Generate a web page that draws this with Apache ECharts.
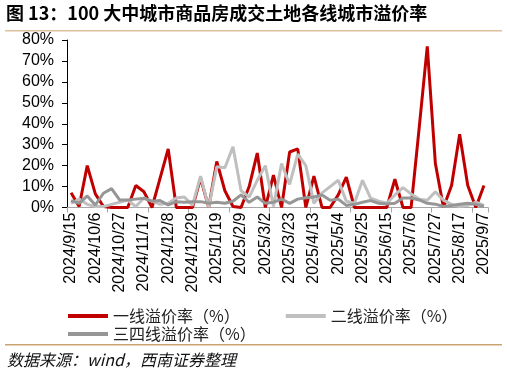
<!DOCTYPE html>
<html>
<head>
<meta charset="utf-8">
<script src="https://cdn.jsdelivr.net/npm/echarts@6/dist/echarts.min.js"></script>
<style>
  html, body { margin: 0; padding: 0; background: #fff; }
  #chart { width: 507px; height: 376px; }
</style>
</head>
<body>
<div id="chart"></div>
<script>
const weeks = [
  '2024/9/15', '2024/9/22', '2024/9/29', '2024/10/6', '2024/10/13', '2024/10/20', '2024/10/27',
  '2024/11/3', '2024/11/10', '2024/11/17', '2024/11/24', '2024/12/1', '2024/12/8', '2024/12/15',
  '2024/12/22', '2024/12/29', '2025/1/5', '2025/1/12', '2025/1/19', '2025/1/26', '2025/2/2',
  '2025/2/9', '2025/2/16', '2025/2/23', '2025/3/2', '2025/3/9', '2025/3/16', '2025/3/23',
  '2025/3/30', '2025/4/6', '2025/4/13', '2025/4/20', '2025/4/27', '2025/5/4', '2025/5/11',
  '2025/5/18', '2025/5/25', '2025/6/1', '2025/6/8', '2025/6/15', '2025/6/22', '2025/6/29',
  '2025/7/6', '2025/7/13', '2025/7/20', '2025/7/27', '2025/8/3', '2025/8/10', '2025/8/17',
  '2025/8/24', '2025/8/31', '2025/9/7'
];
// 溢价率 (%)
const tier1 = [7, 0.5, 20, 6.5, 0.5, 0, 0, 0, 10.5, 7.5, 0, 14, 28, 0, 0, 0, 14, 0, 22, 8,
  0.5, 0, 10, 26, 0, 15.5, 0, 26.5, 28, 0, 15, 0, 0, 6, 14.5, 0, 0, 0, 0, 0,
  13.5, 0, 0, 38, 77, 21, 0, 10.5, 35, 10.5, 0, 10.5];
const tier2 = [2, 4, 1.5, 0.5, 0.5, 1.5, 2.5, 3.5, 0.5, 4.5, 3, 1.5, 2, 4.5, 5, 1, 15, 0, 19.5, 19,
  29, 8, 5, 13, 20, 0.5, 21, 11, 25.5, 20, 2, 7, 10, 13, 3, 2, 13, 4.5, 3, 2,
  6, 9.5, 6.5, 4, 3.5, 7.5, 3.5, 1.5, 0.5, 1, 2.5, 1];
const tier34 = [3.3, 2, 5.5, 1.2, 6.8, 9, 3.6, 3.6, 4, 4.4, 3, 3.3, 1.2, 2.8, 2.5, 2.8, 2.8, 2, 2.5, 2,
  3, 6, 2.5, 5, 2, 2.5, 4, 2, 4, 4.7, 5, 6, 3.5, 4, 1, 1.5, 2.5, 3.3, 2, 1.7,
  2, 4.5, 4.5, 3.6, 2, 1.6, 0.5, 1, 1.5, 2, 1.5, 0.5];
const seriesNames = ['一线溢价率（%）', '二线溢价率（%）', '三四线溢价率（%）'];
const colors = ['#C00000', '#BFBFBF', '#969696'];

const latin = '"Liberation Sans", Arial, "Noto Sans CJK SC", sans-serif';
const cjk = '"Noto Sans CJK SC", "Liberation Sans", sans-serif';

const chart = echarts.init(document.getElementById('chart'));
const option = {
  animation: false,
  backgroundColor: '#fff',
  graphic: [
    { type: 'text', left: 6, top: 4,
      style: { text: '图 13：100 大中城市商品房成交土地各线城市溢价率', font: 'bold 18px ' + cjk, fill: '#000' } },
    { type: 'rect', shape: { x: 5, y: 30, width: 497, height: 1.5 }, style: { fill: '#DCC09A' } },
    { type: 'rect', shape: { x: 5, y: 344, width: 497, height: 1.5 }, style: { fill: '#C9A472' } },
    { type: 'text', left: 7, top: 352,
      style: { text: '数据来源：wind，西南证券整理', font: 'italic 16px ' + cjk, fill: '#111' } }
  ],
  legend: [
    { data: [seriesNames[0], seriesNames[1]], left: 68, top: 308, padding: 0, itemWidth: 40, itemHeight: 4,
      itemGap: 46, icon: 'rect', textStyle: { fontSize: 16, color: '#222', fontFamily: cjk } },
    { data: [seriesNames[2]], left: 68, top: 326, padding: 0, itemWidth: 40, itemHeight: 4,
      icon: 'rect', textStyle: { fontSize: 16, color: '#222', fontFamily: cjk } }
  ],
  grid: { left: 67, right: 19, top: 40, bottom: 168.5, containLabel: false },
  xAxis: {
    type: 'category',
    data: weeks,
    boundaryGap: true,
    axisLine: { lineStyle: { color: '#A6A6A6', width: 1 } },
    axisTick: { show: true, interval: 4, length: 5, lineStyle: { color: '#A6A6A6' } },
    axisLabel: { interval: 2, rotate: 90, margin: 5, fontSize: 16, color: '#000', fontFamily: latin }
  },
  yAxis: {
    type: 'value',
    min: 0, max: 80, interval: 10,
    splitLine: { show: false },
    axisLine: { show: true, lineStyle: { color: '#000', width: 1 } },
    axisTick: { show: true, length: 5, lineStyle: { color: '#000' } },
    axisLabel: { formatter: '{value}%', margin: 13, fontSize: 16, color: '#000', fontFamily: latin }
  },
  series: [tier1, tier2, tier34].map((d, i) => ({
    name: seriesNames[i],
    type: 'line',
    data: d,
    symbol: 'none',
    lineStyle: { width: 3, color: colors[i] },
    itemStyle: { color: colors[i] }
  }))
};
chart.setOption(option);
</script>
</body>
</html>
